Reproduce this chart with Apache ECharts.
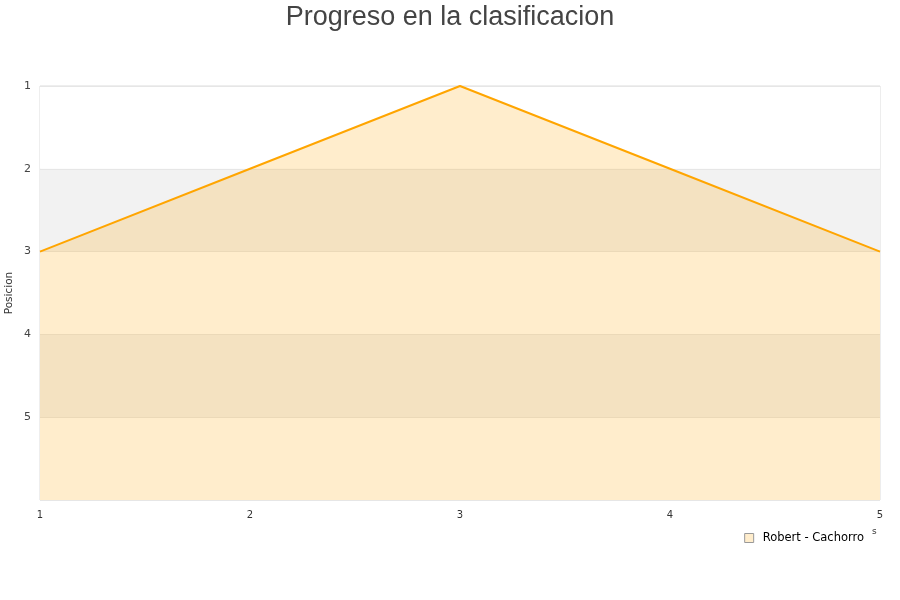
<!DOCTYPE html>
<html><head><meta charset="utf-8">
<script src="https://cdn.jsdelivr.net/npm/echarts@6/dist/echarts.min.js"></script>
<style>html,body{margin:0;padding:0;background:#fff}#c{width:900px;height:600px}</style>
</head><body><div id="c"></div>
<script>
const jornadas = [1, 2, 3, 4, 5];
const posiciones = [3, 2, 1, 2, 3];
const seriesName = 'Robert - Cachorro';
const yTicks = [1, 2, 3, 4, 5];

const chart = echarts.init(document.getElementById('c'), null, {renderer: 'canvas'});
chart.setOption({
  animation: false,
  backgroundColor: '#fff',
  title: {
    text: 'Progreso en la clasificacion',
    left: 'center', top: -1,
    textStyle: {fontFamily: 'Liberation Sans', fontSize: 27, fontWeight: 'normal', color: '#444'}
  },
  grid: {left: 40, right: 20, top: 86, bottom: 100, containLabel: false, outerBoundsMode: 'none',
    show: true, borderColor: '#dcdcdc', borderWidth: 1, backgroundColor: 'transparent'},
  legend: {
    right: 31, top: 527,
    itemWidth: 9, itemHeight: 9, itemGap: 10,
    textStyle: {fontFamily: 'DejaVu Sans', fontSize: 11.5, color: '#000', padding: [0, 0, 0, 4]},
    data: [{name: seriesName, icon: 'rect', itemStyle: {color: '#ffedcc', borderColor: '#999', borderWidth: 1}}]
  },
  xAxis: {
    type: 'value', min: 1, max: 5, interval: 1,
    axisLine: {show: false}, axisTick: {show: false}, splitLine: {show: false},
    axisLabel: {fontFamily: 'DejaVu Sans', fontSize: 10, color: '#333', margin: 10}
  },
  yAxis: {
    type: 'value', inverse: true, min: 1, max: 6, interval: 1,
    name: 'Posicion', nameLocation: 'middle', nameGap: 25, nameMoveOverlap: false,
    nameTextStyle: {fontFamily: 'DejaVu Sans', fontSize: 10.5, color: '#333'},
    axisLine: {show: false}, axisTick: {show: false},
    axisLabel: {fontFamily: 'DejaVu Sans', fontSize: 11, color: '#444', margin: 9,
      formatter: v => yTicks.indexOf(v) >= 0 ? String(v) : ''},
    splitLine: {show: true, lineStyle: {color: '#e6e6e6', width: 1}},
    splitArea: {show: true, areaStyle: {color: ['#ffffff', '#f2f2f2']}}
  },
  graphic: [{type: 'text', left: 872, top: 527, style: {text: 's', fontFamily: 'DejaVu Sans', fontSize: 9, fill: '#333'}}],
  series: [{
    name: seriesName, type: 'line',
    data: jornadas.map((j, i) => [j, posiciones[i]]),
    showSymbol: false,
    lineStyle: {color: '#ffa500', width: 2},
    itemStyle: {color: '#ffa500'},
    areaStyle: {color: '#ffa500', opacity: 0.2, origin: 'end'}
  }]
});
</script></body></html>
